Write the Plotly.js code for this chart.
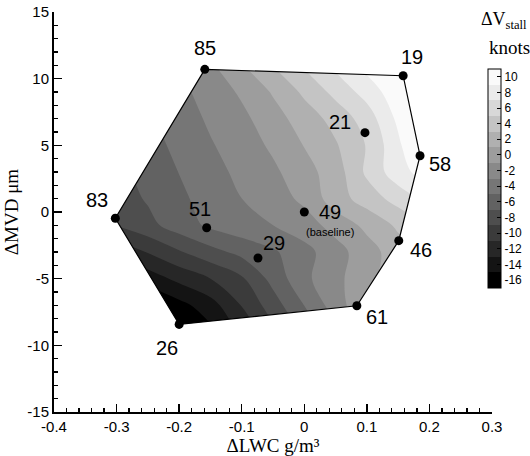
<!DOCTYPE html>
<html><head><meta charset="utf-8">
<script src="https://cdn.plot.ly/plotly-3.0.1.min.js"></script>
<style>html,body{margin:0;padding:0;background:#fff}#chart{width:530px;height:456px}</style>
</head><body><div id="chart"></div>
<script>
// ---- data ----
const runIds = ['85','19','58','21','49','46','61','29','51','83','26'];
const lwc    = [-0.159, 0.158, 0.185, 0.097, 0.000, 0.151, 0.084, -0.074, -0.156, -0.302, -0.200];
const mvd    = [10.70, 10.22, 4.22, 5.95, 0.00, -2.15, -7.03, -3.45, -1.18, -0.47, -8.43];
const hullIds = ['85','19','58','46','61','26','83'];

// contour field (dV_stall, knots) on a regular grid
const gridLWC = [-0.30,-0.25,-0.20,-0.15,-0.10,-0.05,0.00,0.05,0.10,0.15,0.20];
const gridMVD = [-9,-7,-5,-3,-1,1,3,5,7,9,11];
const dVstall = [
  [-21.2,-20.0,-17.46,-14.49,-11.52,-8.55,-5.58,-2.61,1.0,3.77,5.69],
  [-18.0,-16.35,-14.68,-12.88,-9.91,-6.94,-3.97,-0.99,1.8,3.54,5.46],
  [-14.77,-13.11,-11.45,-10.01,-8.29,-5.32,-2.47,-0.55,1.38,3.30,5.22],
  [-11.53,-9.87,-8.21,-6.68,-5.41,-4.31,-2.68,-0.78,1.14,3.06,4.4],
  [-7.9,-6.63,-4.97,-3.62,-2.75,-2.01,-0.90,0.74,2.50,4.36,6.22],
  [-7.09,-5.77,-4.44,-3.14,-2.01,-0.89,0.42,3.07,4.93,6.79,8.65],
  [-6.61,-5.28,-3.95,-2.66,-1.53,-0.40,1.25,3.00,6.39,9.22,11.08],
  [-6.12,-4.80,-3.47,-2.17,-1.05,0.37,2.08,3.79,6.13,9.57,13.53],
  [-5.64,-4.31,-2.98,-1.69,-0.52,1.20,2.91,4.72,6.92,10.45,14.41],
  [-5.15,-3.83,-2.50,-1.21,0.32,2.20,4.40,6.60,8.80,11.33,15.29],
  [-4.67,-3.34,-2.02,-0.32,1.88,4.08,6.28,8.48,10.68,12.88,16.16]
];
const levelTicks = [-16,-14,-12,-10,-8,-6,-4,-2,0,2,4,6,8,10];
const xTickVals = [-0.4,-0.3,-0.2,-0.1,0,0.1,0.2,0.3];
const xTickText = ['-0.4','-0.3','-0.2','-0.1','0','0.1','0.2','0.3'];
const yTickVals = [-15,-10,-5,0,5,10,15];
const yTickText = ['-15','-10','-5','0','5','10','15'];

// ---- styles ----
const bandGrays = ['#000000','#141414','#272727','#3b3b3b','#4e4e4e','#626262','#767676',
                   '#898989','#9d9d9d','#b0b0b0','#c4c4c4','#d8d8d8','#ebebeb','#fafafa'];
const labelOffsets = {
  '85':[0,-21], '19':[9,-19], '58':[20,8], '21':[-25,-11], '49':[26,0], '46':[22,9],
  '61':[20,11], '29':[16,-15], '51':[-7,-19], '83':[-18,-18], '26':[-12,24]
};
const XR = [-0.4, 0.3], YR = [-15, 15];

const idx = id => runIds.indexOf(id);
const contourScale = bandGrays.map((c,i)=>[i/(bandGrays.length-1), c]);
const stepScale = [];
bandGrays.forEach((c,i)=>{ stepScale.push([i/bandGrays.length, c]); stepScale.push([(i+1)/bandGrays.length, c]); });

const contour = {
  type:'contour', x:gridLWC, y:gridMVD, z:dVstall,
  autocontour:false, contours:{start:-14, end:10, size:2, coloring:'fill', showlines:false},
  colorscale:contourScale, showscale:false, line:{width:0}, hoverinfo:'skip'
};

// white mask outside the convex hull of the runs
const hullRev = [hullIds[0]].concat(hullIds.slice(1).reverse()).concat([hullIds[0]]);
const maskX = [XR[0],XR[0],XR[1],XR[1],XR[0]].concat(hullRev.map(id=>lwc[idx(id)])).concat([XR[0]]);
const maskY = [YR[0],YR[1],YR[1],YR[0],YR[0]].concat(hullRev.map(id=>mvd[idx(id)])).concat([YR[0]]);
const mask = {type:'scatter', mode:'lines', x:maskX, y:maskY, fill:'toself', fillcolor:'#ffffff',
  line:{width:0, color:'rgba(0,0,0,0)'}, hoverinfo:'skip', showlegend:false};

const hullClosed = hullIds.concat([hullIds[0]]);
const hull = {type:'scatter', mode:'lines', x:hullClosed.map(id=>lwc[idx(id)]), y:hullClosed.map(id=>mvd[idx(id)]),
  line:{color:'#000', width:1.2}, hoverinfo:'skip', showlegend:false};

const pts = {type:'scatter', mode:'markers', x:lwc, y:mvd, marker:{color:'#000', size:9},
  hoverinfo:'skip', showlegend:false};

const cbar = {type:'scatter', mode:'markers', x:[lwc[idx('49')]], y:[mvd[idx('49')]],
  marker:{size:1, opacity:0, color:[0], cmin:-17, cmax:11, colorscale:stepScale, showscale:true,
    colorbar:{x:0.991, xanchor:'left', xpad:0, y:0.584, yanchor:'middle', ypad:0,
      len:219, lenmode:'pixels', thickness:13, thicknessmode:'pixels',
      tickvals:levelTicks, ticktext:levelTicks.map(String), ticks:'inside', ticklen:4, tickcolor:'#000',
      outlinewidth:1, outlinecolor:'#000',
      tickfont:{family:'Liberation Sans, Arial, sans-serif', size:12, color:'#000'}}},
  hoverinfo:'skip', showlegend:false};

const annotations = runIds.map((id,i)=>({
  x:lwc[i], y:mvd[i], text:id, showarrow:false, xshift:labelOffsets[id][0], yshift:-labelOffsets[id][1],
  font:{family:'Liberation Sans, Arial, sans-serif', size:20, color:'#000'}
}));
annotations.push({x:lwc[idx('49')], y:mvd[idx('49')], text:'(baseline)', showarrow:false, xshift:26, yshift:-20,
  font:{family:'Liberation Sans, Arial, sans-serif', size:11, color:'#000'}});
annotations.push({xref:'paper', yref:'paper', x:1.0845, y:0.98, xanchor:'right', yanchor:'middle',
  text:'ΔV<sub>stall</sub>', showarrow:false,
  font:{family:'Liberation Serif, Times New Roman, serif', size:18, color:'#000'}});
annotations.push({xref:'paper', yref:'paper', x:1.039, y:0.912, xanchor:'center', yanchor:'middle',
  text:'knots', showarrow:false,
  font:{family:'Liberation Serif, Times New Roman, serif', size:19, color:'#000'}});

const axisCommon = {showgrid:false, zeroline:false, showline:true, linecolor:'#000', linewidth:2,
  ticks:'inside', ticklen:8, tickwidth:1.5, tickcolor:'#000',
  tickfont:{family:'Liberation Sans, Arial, sans-serif', size:15, color:'#000'}};

const layout = {
  width:530, height:456, margin:{l:54, r:38, t:12, b:44, autoexpand:false},
  paper_bgcolor:'#fff', plot_bgcolor:'#fff', showlegend:false,
  xaxis:Object.assign({}, axisCommon, {range:XR, tickmode:'array', tickvals:xTickVals, ticktext:xTickText,
    minor:{dtick:0.02, tick0:-0.4, ticks:'inside', ticklen:4, tickwidth:1.2, tickcolor:'#000'},
    title:{text:'ΔLWC g/m³', standoff:2, font:{family:'Liberation Serif, Times New Roman, serif', size:19, color:'#000'}}}),
  yaxis:Object.assign({}, axisCommon, {range:YR, tickmode:'array', tickvals:yTickVals, ticktext:yTickText,
    minor:{dtick:1, tick0:-15, ticks:'inside', ticklen:4, tickwidth:1.2, tickcolor:'#000'},
    title:{text:'ΔMVD μm', standoff:4, font:{family:'Liberation Serif, Times New Roman, serif', size:19, color:'#000'}}}),
  annotations:annotations
};

Plotly.newPlot('chart', [contour, mask, hull, pts, cbar], layout, {displayModeBar:false, staticPlot:true});
</script></body></html>
